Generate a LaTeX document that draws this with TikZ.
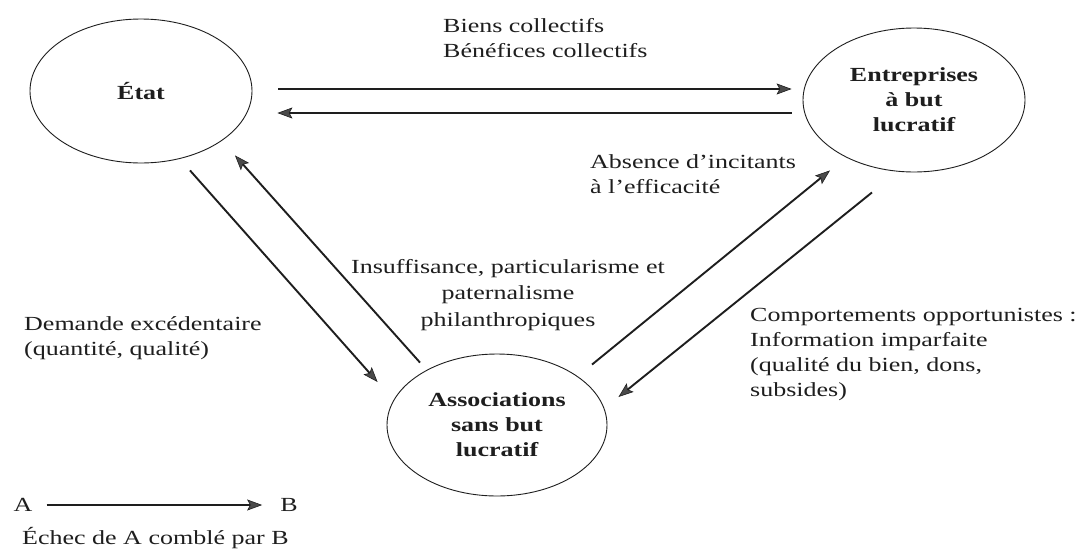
\documentclass[tikz,border=0pt]{standalone}
\usepackage{fontspec}
\setmainfont{Liberation Serif}[FakeStretch=1.3]
\usetikzlibrary{shapes.geometric,arrows.meta,calc}
\definecolor{ink}{HTML}{1E1E1E}
\definecolor{headgray}{HTML}{4A4A4A}
\begin{document}
\begin{tikzpicture}[x=1pt,y=-1pt,
  font=\fontsize{20}{25}\selectfont,
  every node/.style={text=ink},
  state/.style={ellipse, draw=ink, line width=0.9pt, minimum width=222pt, minimum height=144pt,
    inner sep=0pt, align=center, font=\fontsize{20}{25}\selectfont\bfseries},
  arr/.style={draw=ink, line width=1.9pt,
    -{Stealth[length=15pt,width=11pt,inset=3pt,fill=headgray,line width=0.6pt]}},
  lbl/.style={inner sep=0pt, align=left, anchor=west}]

\useasboundingbox[fill=white] (0,0) rectangle (1084,552);

% main nodes
\node[state] (etat) at (141,91) {État};
\node[state] (entr) at (914,100) {Entreprises\\à but\\lucratif};
\node[state, minimum width=220pt, minimum height=142pt] (assoc) at (497,425) {Associations\\sans but\\lucratif};

% labels
\node[lbl] (biens) at (443,38.5) {Biens collectifs\\Bénéfices collectifs};
\node[lbl] (absence) at (590,174.5) {Absence d'incitants\\à l'efficacité};
\node[align=center, inner sep=0pt, font=\fontsize{20}{26.5}\selectfont] (insuf) at (508,295)
  {Insuffisance, particularisme et\\paternalisme\\philanthropiques};
\node[lbl] (demande) at (24,338.5) {Demande excédentaire\\(quantité, qualité)};
\node[lbl] (comport) at (750,354.5) {Comportements opportunistes :\\Information imparfaite\\(qualité du bien, dons,\\subsides)};

% legend
\node[inner sep=0pt] (A) at (23,505) {A};
\node[inner sep=0pt] (B) at (289,505) {B};
\draw[arr, shorten <=14pt, shorten >=18pt] (A) -- (B);
\node[lbl] (echec) at (22,538) {Échec de A comblé par B};

% connectors
\draw[arr] ($(etat.east)+(26,-2)$) -- ($(entr.west)+(-11,-11)$);
\draw[arr] ($(entr.west)+(-11,13)$) -- ($(etat.east)+(25,22)$);
\draw[arr] ($(etat.south)+(49,7)$) -- ($(assoc.west)+(-9,-43)$);
\draw[arr] ($(assoc.north)+(-77,9)$) -- ($(etat.south)+(94,-8)$);
\draw[arr] ($(assoc.north)+(95,11)$) -- ($(entr.south)+(-84,-2)$);
\draw[arr] ($(entr.south)+(-42,20)$) -- ($(assoc.east)+(11,-28)$);
\end{tikzpicture}
\end{document}
